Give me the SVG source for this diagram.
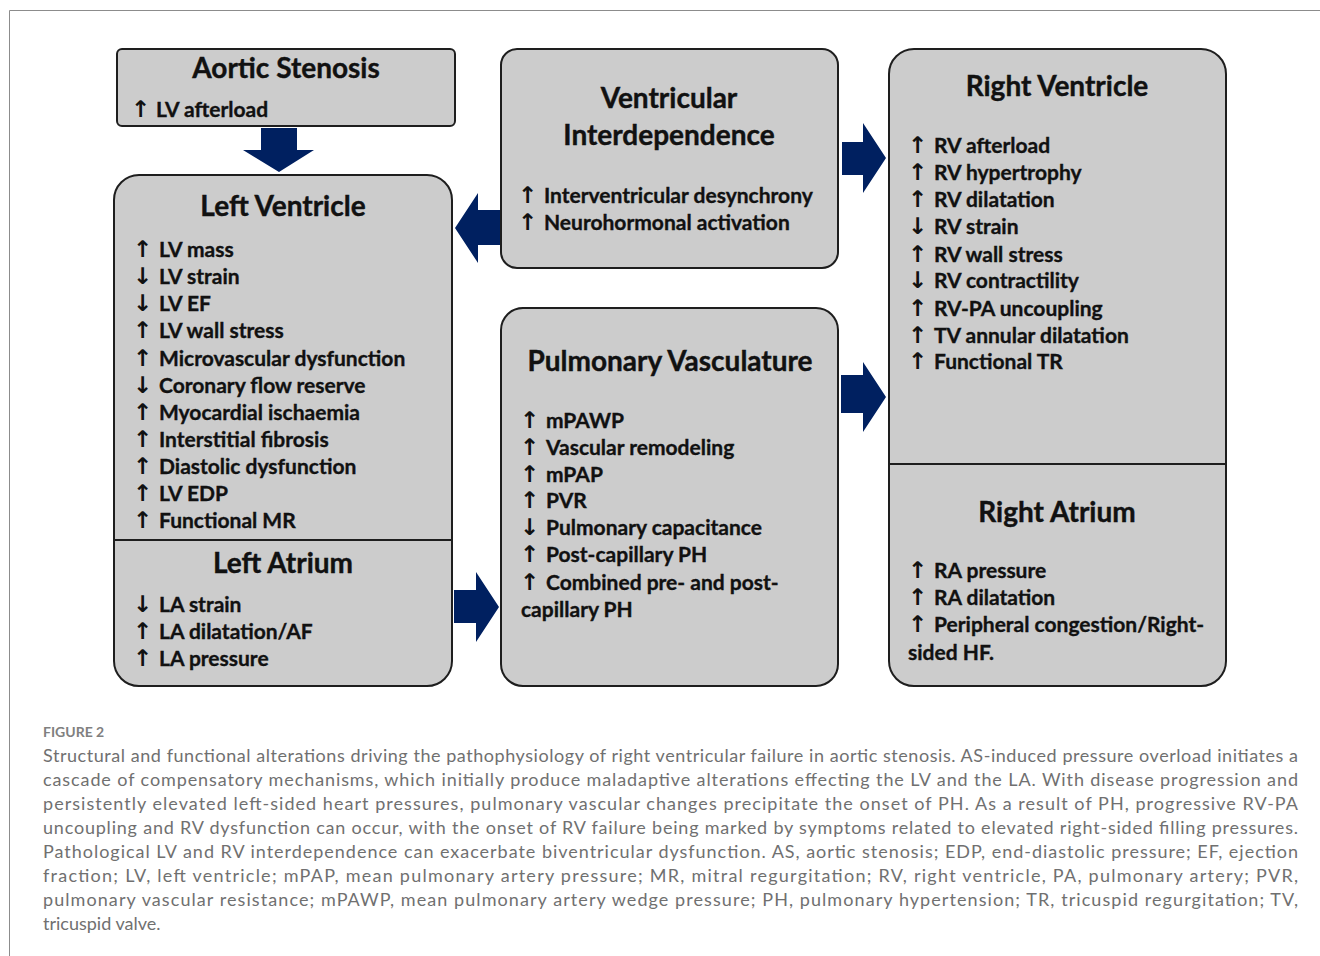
<svg xmlns="http://www.w3.org/2000/svg" width="1320" height="956" viewBox="0 0 1320 956">
<style>
.box{fill:#cccccc;stroke:#1e1e1e;stroke-width:2}
.div{stroke:#1e1e1e;stroke-width:2}
.ttl{font-family:Lato,"Liberation Sans",sans-serif;font-weight:700;font-size:28px;fill:#111;stroke:#111;stroke-width:0.4;text-anchor:middle}
.it{font-family:Lato,"Liberation Sans",sans-serif;font-weight:700;font-size:21px;fill:#111;stroke:#111;stroke-width:0.35}
.ar{font-family:"DejaVu Sans",sans-serif;font-weight:700;font-size:23px;stroke-width:0}
.conn{fill:#002060}
.cap{font-family:Lato,"Open Sans",sans-serif;font-weight:400;font-size:18px;fill:#707070}
.fig{font-family:Lato,"Open Sans",sans-serif;font-weight:700;font-size:14px;fill:#808080}
</style>
<rect width="1320" height="956" fill="#ffffff"/>
<path d="M9.5 956 V10.5 H1320" fill="none" stroke="#8c8c8c" stroke-width="1"/>

<g id="aortic-stenosis">
<rect class="box" x="117" y="49" width="338" height="77" rx="5"/>
<text class="ttl" x="286" y="78">Aortic Stenosis</text>
<text class="it" y="117"><tspan class="ar" x="131">↑</tspan><tspan x="156">LV afterload</tspan></text>
</g>

<g id="left-ventricle-atrium">
<rect class="box" x="114" y="175" width="338" height="511" rx="25"/>
<line class="div" x1="114" y1="540" x2="452" y2="540"/>
<text class="ttl" x="283" y="216">Left Ventricle</text>
<text class="it" y="257"><tspan class="ar" x="133">↑</tspan><tspan x="159">LV mass</tspan></text>
<text class="it" y="284"><tspan class="ar" x="133">↓</tspan><tspan x="159">LV strain</tspan></text>
<text class="it" y="311"><tspan class="ar" x="133">↓</tspan><tspan x="159">LV EF</tspan></text>
<text class="it" y="338"><tspan class="ar" x="133">↑</tspan><tspan x="159">LV wall stress</tspan></text>
<text class="it" y="366"><tspan class="ar" x="133">↑</tspan><tspan x="159">Microvascular dysfunction</tspan></text>
<text class="it" y="393"><tspan class="ar" x="133">↓</tspan><tspan x="159">Coronary flow reserve</tspan></text>
<text class="it" y="420"><tspan class="ar" x="133">↑</tspan><tspan x="159">Myocardial ischaemia</tspan></text>
<text class="it" y="447"><tspan class="ar" x="133">↑</tspan><tspan x="159">Interstitial fibrosis</tspan></text>
<text class="it" y="474"><tspan class="ar" x="133">↑</tspan><tspan x="159">Diastolic dysfunction</tspan></text>
<text class="it" y="501"><tspan class="ar" x="133">↑</tspan><tspan x="159">LV EDP</tspan></text>
<text class="it" y="528"><tspan class="ar" x="133">↑</tspan><tspan x="159">Functional MR</tspan></text>
<text class="ttl" x="283" y="573">Left Atrium</text>
<text class="it" y="612"><tspan class="ar" x="133">↓</tspan><tspan x="159">LA strain</tspan></text>
<text class="it" y="639"><tspan class="ar" x="133">↑</tspan><tspan x="159">LA dilatation/AF</tspan></text>
<text class="it" y="666"><tspan class="ar" x="133">↑</tspan><tspan x="159">LA pressure</tspan></text>
</g>

<g id="ventricular-interdependence">
<rect class="box" x="501" y="49" width="337" height="219" rx="16"/>
<text class="ttl" x="669" y="108">Ventricular</text>
<text class="ttl" x="669" y="145">Interdependence</text>
<text class="it" y="203"><tspan class="ar" x="518">↑</tspan><tspan x="544">Interventricular desynchrony</tspan></text>
<text class="it" y="230"><tspan class="ar" x="518">↑</tspan><tspan x="544">Neurohormonal activation</tspan></text>
</g>

<g id="pulmonary-vasculature">
<rect class="box" x="501" y="308" width="337" height="378" rx="22"/>
<text class="ttl" x="670" y="371">Pulmonary Vasculature</text>
<text class="it" y="428"><tspan class="ar" x="520">↑</tspan><tspan x="546">mPAWP</tspan></text>
<text class="it" y="455"><tspan class="ar" x="520">↑</tspan><tspan x="546">Vascular remodeling</tspan></text>
<text class="it" y="482"><tspan class="ar" x="520">↑</tspan><tspan x="546">mPAP</tspan></text>
<text class="it" y="508"><tspan class="ar" x="520">↑</tspan><tspan x="546">PVR</tspan></text>
<text class="it" y="535"><tspan class="ar" x="520">↓</tspan><tspan x="546">Pulmonary capacitance</tspan></text>
<text class="it" y="562"><tspan class="ar" x="520">↑</tspan><tspan x="546">Post-capillary PH</tspan></text>
<text class="it" y="590"><tspan class="ar" x="520">↑</tspan><tspan x="546">Combined pre- and post-</tspan></text>
<text class="it" x="521" y="617">capillary PH</text>
</g>

<g id="right-ventricle-atrium">
<rect class="box" x="889" y="49" width="337" height="637" rx="25"/>
<line class="div" x1="889" y1="464" x2="1226" y2="464"/>
<text class="ttl" x="1057" y="96">Right Ventricle</text>
<text class="it" y="153"><tspan class="ar" x="908">↑</tspan><tspan x="934">RV afterload</tspan></text>
<text class="it" y="180"><tspan class="ar" x="908">↑</tspan><tspan x="934">RV hypertrophy</tspan></text>
<text class="it" y="207"><tspan class="ar" x="908">↑</tspan><tspan x="934">RV dilatation</tspan></text>
<text class="it" y="234"><tspan class="ar" x="908">↓</tspan><tspan x="934">RV strain</tspan></text>
<text class="it" y="262"><tspan class="ar" x="908">↑</tspan><tspan x="934">RV wall stress</tspan></text>
<text class="it" y="288"><tspan class="ar" x="908">↓</tspan><tspan x="934">RV contractility</tspan></text>
<text class="it" y="316"><tspan class="ar" x="908">↑</tspan><tspan x="934">RV-PA uncoupling</tspan></text>
<text class="it" y="343"><tspan class="ar" x="908">↑</tspan><tspan x="934">TV annular dilatation</tspan></text>
<text class="it" y="369"><tspan class="ar" x="908">↑</tspan><tspan x="934">Functional TR</tspan></text>
<text class="ttl" x="1057" y="522">Right Atrium</text>
<text class="it" y="578"><tspan class="ar" x="908">↑</tspan><tspan x="934">RA pressure</tspan></text>
<text class="it" y="605"><tspan class="ar" x="908">↑</tspan><tspan x="934">RA dilatation</tspan></text>
<text class="it" y="632"><tspan class="ar" x="908">↑</tspan><tspan x="934">Peripheral congestion/Right-</tspan></text>
<text class="it" x="908" y="660">sided HF.</text>
</g>

<g id="connectors">
<polygon class="conn" points="261,128 297,128 297,150 314,150 279,172 243,150 261,150"/>
<polygon class="conn" points="500,210 478,210 478,193 455,228 478,263 478,245 500,245"/>
<polygon class="conn" points="842,142 863,142 863,123 886,158 863,193 863,175 842,175"/>
<polygon class="conn" points="841,375 863,375 863,362 886,397 863,432 863,413 841,413"/>
<polygon class="conn" points="454,590 476,590 476,572 499,607 476,642 476,623 454,623"/>
</g>

<g id="caption">
<text class="fig" x="43" y="737">FIGURE 2</text>
<text class="cap" x="43" y="762" textLength="1255" lengthAdjust="spacing">Structural and functional alterations driving the pathophysiology of right ventricular failure in aortic stenosis. AS-induced pressure overload initiates a</text>
<text class="cap" x="43" y="786" textLength="1255" lengthAdjust="spacing">cascade of compensatory mechanisms, which initially produce maladaptive alterations effecting the LV and the LA. With disease progression and</text>
<text class="cap" x="43" y="810" textLength="1255" lengthAdjust="spacing">persistently elevated left-sided heart pressures, pulmonary vascular changes precipitate the onset of PH. As a result of PH, progressive RV-PA</text>
<text class="cap" x="43" y="834" textLength="1255" lengthAdjust="spacing">uncoupling and RV dysfunction can occur, with the onset of RV failure being marked by symptoms related to elevated right-sided filling pressures.</text>
<text class="cap" x="43" y="858" textLength="1255" lengthAdjust="spacing">Pathological LV and RV interdependence can exacerbate biventricular dysfunction. AS, aortic stenosis; EDP, end-diastolic pressure; EF, ejection</text>
<text class="cap" x="43" y="882" textLength="1255" lengthAdjust="spacing">fraction; LV, left ventricle; mPAP, mean pulmonary artery pressure; MR, mitral regurgitation; RV, right ventricle, PA, pulmonary artery; PVR,</text>
<text class="cap" x="43" y="906" textLength="1255" lengthAdjust="spacing">pulmonary vascular resistance; mPAWP, mean pulmonary artery wedge pressure; PH, pulmonary hypertension; TR, tricuspid regurgitation; TV,</text>
<text class="cap" x="43" y="930">tricuspid valve.</text>
</g>
</svg>
